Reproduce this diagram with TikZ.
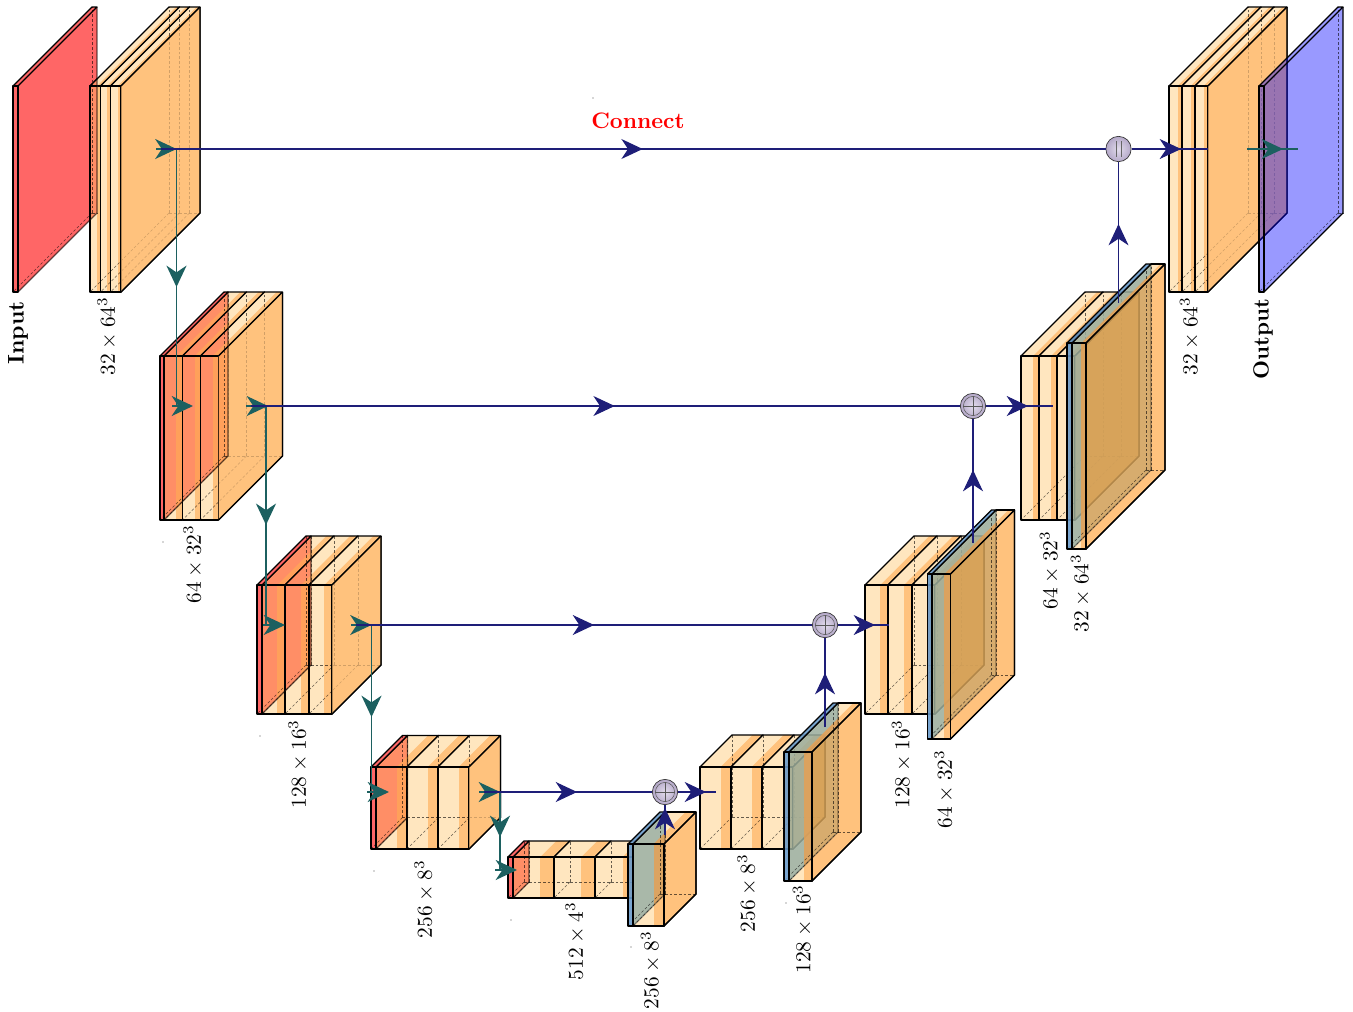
\documentclass[tikz,border=0pt]{standalone}
\usetikzlibrary{arrows.meta,decorations.markings,shadings}
\definecolor{paleC}{HTML}{FFE6BF}
\definecolor{bandC}{HTML}{FFC27D}
\definecolor{salmP}{HTML}{FF8E66}
\definecolor{salmB}{HTML}{FFA05A}
\definecolor{redC}{HTML}{FF6666}
\definecolor{tintP}{HTML}{9AAC9B}
\definecolor{tintB}{HTML}{E4A055}
\definecolor{tintR}{HTML}{D09E55}
\definecolor{steelC}{HTML}{6A9BCB}
\definecolor{navyC}{HTML}{1E1E78}
\definecolor{tealC}{HTML}{1C6060}
\definecolor{ballIn}{HTML}{E2DCEC}
\definecolor{ballOut}{HTML}{B4A8C8}
\colorlet{cp}{paleC}\colorlet{cb}{bandC}\colorlet{cr}{bandC}
\tikzset{
  edge/.style={draw=black,line width=.95pt,line join=round},
  hidden/.style={draw=black,dashed,dash pattern=on 2pt off 1.5pt,line width=.4pt,opacity=.6},
  Hd/.tip={Stealth[length=16pt,width=15pt,inset=5pt]},
  headat/.style={postaction={decorate,decoration={markings,mark=at position #1 with {\arrow{Hd}}}}},
  blueline/.style={color=navyC,line width=.8pt},
  tealline/.style={color=tealC,line width=1.2pt},
  lbl/.style={rotate=90,scale=1.6,inner sep=0pt},
  sumnode/.style={circle,draw=black!80,line width=.5pt,minimum size=19pt,inner sep=0pt,inner color=ballIn,outer color=ballOut},
  plusnode/.style={sumnode,path picture={
    \draw[black!65,line width=.4pt] (path picture bounding box.center) circle (7.2pt);
    \draw[black!65,line width=.4pt] ([xshift=-7.2pt]path picture bounding box.center) -- ([xshift=7.2pt]path picture bounding box.center);
    \draw[black!65,line width=.4pt] ([yshift=-7.2pt]path picture bounding box.center) -- ([yshift=7.2pt]path picture bounding box.center);}},
  barnode/.style={sumnode,path picture={
    \draw[black!60,line width=.5pt] ([xshift=-2pt,yshift=-6pt]path picture bounding box.center) -- ([xshift=-2pt,yshift=6pt]path picture bounding box.center);
    \draw[black!60,line width=.5pt] ([xshift=2pt,yshift=-6pt]path picture bounding box.center) -- ([xshift=2pt,yshift=6pt]path picture bounding box.center);}},
}
% one opaque box: x1 x2 y1 y2 d
\newcommand{\onebox}[5]{%
  \pgfmathsetmacro{\bx}{#1+(#2-#1)*2/3}%
  \fill[cp] (#1,#3) rectangle (#2,#4);
  \fill[cb] (\bx,#3) rectangle (#2,#4);
  \fill[cp] (#1,#3) -- (#2,#3) -- ++(#5,-#5) -- ++(#1-#2,0) -- cycle;
  \fill[cb] (\bx,#3) -- (#2,#3) -- ++(#5,-#5) -- (\bx+#5,#3-#5) -- cycle;
  \fill[cr] (#2,#3) -- ++(#5,-#5) -- ++(0,#4-#3) -- (#2,#4) -- cycle;
  \draw[edge] (#1,#3) rectangle (#2,#4);
  \draw[edge] (#1,#3) -- ++(#5,-#5) -- ++(#2-#1,0) -- (#2,#3);
  \draw[edge] (#2+#5,#3-#5) -- ++(0,#4-#3) -- (#2,#4);
}
\newcommand{\hid}[5]{%
  \draw[hidden] (#1+#5,#4-#5) -- (#1+#5,#3-#5);
  \draw[hidden] (#1+#5,#4-#5) -- (#2+#5,#4-#5);
  \draw[hidden] (#1+#5,#4-#5) -- (#1,#4);
}
% stack: list y1 y2 d lastx2
\newcommand{\fullstack}[5]{%
  \foreach \ua/\ub in {#1}{\onebox{\ua}{\ub}{#2}{#3}{#4}}
  \foreach \ua/\ub in {#1}{\hid{\ua}{\ub}{#2}{#3}{#4}}
  \fill[cr,fill opacity=.7] (#5,#2) -- ++(#4,-#4) -- ++(0,#3-#2) -- (#5,#3) -- cycle;
  \draw[edge] (#5+#4,#2-#4) -- ++(0,#3-#2) -- (#5,#3);
  \draw[edge] (#5,#2) -- ++(#4,-#4);
}
% red layer: xl xr y1 y2 d stack
\newcommand{\redstack}[6]{%
  \fill[redC] (#2,#3) -- ++(#5,-#5) -- ++(0,#4-#3) -- (#2,#4) -- cycle;
  #6
  \begin{scope}
    \clip (#2,#3) -- ++(#5,-#5) -- ++(0,#4-#3) -- (#2,#4) -- cycle;
    \colorlet{cp}{salmP}\colorlet{cb}{salmB}\colorlet{cr}{salmB}
    #6
  \end{scope}
  \fill[redC] (#1,#3) rectangle (#2,#4);
  \fill[redC] (#1,#3) -- (#2,#3) -- ++(#5,-#5) -- ++(#1-#2,0) -- cycle;
  \draw[edge] (#1,#3) rectangle (#2,#4);
  \draw[edge] (#1,#3) -- ++(#5,-#5) -- ++(#2-#1,0) -- (#2,#3);
  \draw[edge,draw opacity=.6] (#2+#5,#3-#5) -- ++(0,#4-#3) -- (#2,#4);
  \hid{#1}{#2}{#3}{#4}{#5}
}
% blue layer: xa xb xc y1 y2 d conv
\newcommand{\bluestack}[7]{%
  #7
  \onebox{#2}{#3}{#4}{#5}{#6}
  \begin{scope}
    \clip (#2,#4) -- ++(#6,-#6) -- ++(0,#5-#4) -- (#2,#5) -- cycle;
    \fill[white] (#2-1,#4-#6-1) rectangle (#2+#6+1,#5+1);
    #7
    \begin{scope}[fill opacity=.85]
      \colorlet{cp}{tintP}\colorlet{cb}{tintB}\colorlet{cr}{tintR}
      \onebox{#2}{#3}{#4}{#5}{#6}
    \end{scope}
  \end{scope}
  \hid{#2}{#3}{#4}{#5}{#6}
  \hid{#1}{#2}{#4}{#5}{#6}
  \draw[edge,draw opacity=.35] (#2+#6,#4-#6) -- ++(0,#5-#4) -- (#2,#5);
  \fill[steelC,fill opacity=.9] (#1,#4) rectangle (#2,#5);
  \fill[steelC,fill opacity=.9] (#1,#4) -- (#2,#4) -- ++(#6,-#6) -- ++(#1-#2,0) -- cycle;
  \draw[edge] (#1,#4) rectangle (#2,#5);
  \draw[edge] (#1,#4) -- ++(#6,-#6) -- ++(#2-#1,0) -- (#2,#4);
  \draw[edge] (#2,#4) rectangle (#3,#5);
  \draw[edge] (#3,#4) -- ++(#6,-#6) -- ++(0,#5-#4) -- (#3,#5);
  \draw[edge] (#2+#6,#4-#6) -- ++(#3-#2,0);
}
\newcommand{\cvA}{\fullstack{90/100.5,100.5/110.5,110.5/121}{86}{292}{79}{121}}
\newcommand{\cvB}{\fullstack{164/182.5,182.5/200.5,200.5/218.5}{356}{520}{64}{218.5}}
\newcommand{\cvC}{\fullstack{262/285,285/309,309/332}{585}{714}{49}{332}}
\newcommand{\cvD}{\fullstack{376/407,407/438,438/469}{767}{849}{31.5}{469}}
\newcommand{\cvE}{\fullstack{513/554,554/595,595/636.5}{857}{898}{16}{636.5}}
\newcommand{\cvF}{\fullstack{700/731,731/762,762/793}{767}{849}{32}{793}}
\newcommand{\cvG}{\fullstack{865/888,888/912,912/935}{585}{714}{49}{935}}
\newcommand{\cvH}{\fullstack{1021/1039,1039/1057,1057/1075}{356}{520}{64}{1075}}
\newcommand{\cvI}{\fullstack{1169/1182,1182/1195,1195/1208}{86}{292}{79}{1208}}
\begin{document}
\begin{tikzpicture}[x=.75pt,y=-.75pt]
\useasboundingbox (0,0) rectangle (1353,1011);
% encoder
\redstack{13}{18}{86}{292}{79}{\cvA}
\redstack{160}{164}{356}{520}{64}{\cvB}
\redstack{257}{262}{585}{714}{49}{\cvC}
\redstack{371}{376}{767}{849}{31.5}{\cvD}
\redstack{508}{513}{857}{898}{16}{\cvE}
% decoder
\bluestack{628}{633}{664}{844}{926}{32}{}
\bluestack{784}{789}{812}{752}{881}{49}{\cvF}
\bluestack{927.5}{932}{950.5}{574}{739}{64}{\cvG}
\bluestack{1067}{1072}{1086}{343}{549}{79}{\cvH}
\cvI
% output
\fill[blue!100,fill opacity=.4] (1264,86) -- ++(79,-79) -- ++(0,206) -- (1264,292) -- cycle;
\fill[blue!100,fill opacity=.4] (1259,86) rectangle (1264,292);
\fill[blue!100,fill opacity=.4] (1259,86) -- (1264,86) -- ++(79,-79) -- ++(-5,0) -- cycle;
\hid{1259}{1264}{86}{292}{79}
\draw[edge] (1259,86) rectangle (1264,292);
\draw[edge] (1259,86) -- ++(79,-79) -- ++(5,0) -- (1264,86);
\draw[edge] (1343,7) -- ++(0,206) -- (1264,292);
% named points
\node[barnode] (c1) at (1118.5,149) {};
\node[plusnode] (c2) at (973,406) {};
\node[plusnode] (c3) at (825,625) {};
\node[plusnode] (c4) at (665,792) {};
\foreach \nm/\px/\py in {s1/161/149,s2/251/406,s3/356/625,s4/484/792,
  e1/1208/149,e2/1053/406,e3/889/625,e4/716/792,
  b1/1118.5/303,b2/973/543,b3/825/727,b4/665/835,
  t1/176.5/149,t1h/156/149,t1i/172/406,t1j/193/406,t1k/176.5/406,
  t2/266/406,t2h/246/406,t2i/263/625,t2j/285/625,t2k/266/625,
  t3/371.5/625,t3h/351/625,t3i/367/792,t3j/389/792,t3k/371.5/792,
  t4/500/792,t4h/479/792,t4i/495/870,t4j/517/870,t4k/500/870,
  o1/1247/149,o2/1298/149}
  {\coordinate (\nm) at (\px,\py);}
% teal connectors
\draw[tealline,headat=.537] (t1) -- (t1k);
\draw[tealline,headat=.543] (t2) -- (t2k);
\draw[tealline,headat=.551] (t3) -- (t3k);
\draw[tealline,headat=.577] (t4) -- (t4k);
\draw[tealline,-Hd] (t1h) -- (t1);
\draw[tealline,-Hd] (t1i) -- (t1j);
\draw[tealline,-Hd] (t2h) -- ([xshift=1.5pt]t2);
\draw[tealline,-Hd] (t2i) -- (t2j);
\draw[tealline,-Hd] (t3h) -- (t3);
\draw[tealline,-Hd] (t3i) -- (t3j);
\draw[tealline,-Hd] (t4h) -- (t4);
\draw[tealline,-Hd] (t4i) -- (t4j);
\draw[tealline,headat=.706] (o1) -- (o2);
% blue connectors
\draw[blueline,headat=.51] (s1) -- (c1);
\draw[blueline,headat=.513] (s2) -- (c2);
\draw[blueline,headat=.522] (s3) -- (c3);
\draw[blueline,headat=.554] (s4) -- (c4);
\draw[blueline,headat=.647] (c1) -- (e1);
\draw[blueline,headat=.627] (c2) -- (e2);
\draw[blueline,headat=.725] (c3) -- (e3);
\draw[blueline,headat=.737] (c4) -- (e4);
\draw[blueline,headat=.56] (b1) -- (c1);
\draw[blueline,headat=.589] (b2) -- (c2);
\draw[blueline,headat=.607] (b3) -- (c3);
\draw[blueline,headat=.9] (b4) -- (c4);
% labels
\node[lbl,scale=1.06] (inp) at (18,333) {\textbf{Input}};
\node[lbl,scale=1.03] (outp) at (1263,339) {\textbf{Output}};
\node[lbl] (l1) at (107,336) {$32\times 64^3$};
\node[lbl] (l2) at (193,564) {$64\times 32^3$};
\node[lbl] (l3) at (298,764) {$128\times 16^3$};
\node[lbl] (l4) at (424,899) {$256\times 8^3$};
\node[lbl] (l5) at (575,941) {$512\times 4^3$};
\node[lbl] (l6) at (650.5,970) {$256\times 8^3$};
\node[lbl] (l7) at (747,893) {$256\times 8^3$};
\node[lbl] (l8) at (802.5,929) {$128\times 16^3$};
\node[lbl] (l9) at (901.5,764) {$128\times 16^3$};
\node[lbl] (l10) at (944,789) {$64\times 32^3$};
\node[lbl] (l11) at (1049.5,570) {$64\times 32^3$};
\node[lbl] (l12) at (1080.5,593) {$32\times 64^3$};
\node[lbl] (l13) at (1189.5,336) {$32\times 64^3$};
\node[scale=1.68,inner sep=0pt,text=red] (conn) at (638,121) {\textbf{Connect}};
% tiny marks
\foreach \px/\py in {593/98,163/542,260/736,374/871,511/920,631/947,786/903}
  \fill[black!70] (\px,\py) circle (.6);
\end{tikzpicture}
\end{document}
